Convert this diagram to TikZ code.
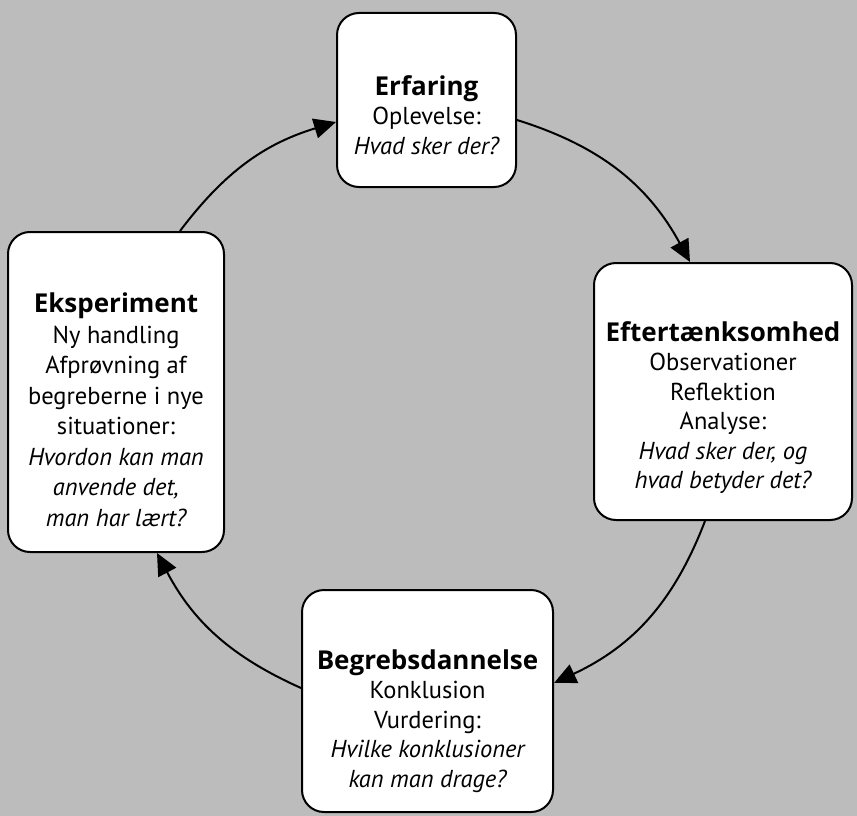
\documentclass[tikz,border=0pt]{standalone}
\usepackage{fontspec}
\setmainfont{PT Sans}
\newfontfamily\titlefont{Open Sans}
\usetikzlibrary{arrows.meta}
\definecolor{bg}{RGB}{188,188,188}
\tikzset{
  box/.style={draw=black, line width=2pt, fill=white, rounded corners=22pt, inner sep=0pt},
  txt/.style={align=center, font=\fontsize{24.5}{29.5}\selectfont, inner sep=0pt},
  cyc/.style={draw=black, line width=2pt, -{Triangle[length=22pt,width=20pt]}},
}
\newcommand{\ttl}[1]{{\titlefont\fontsize{26}{31}\selectfont\bfseries #1}}
\begin{document}
\begin{tikzpicture}[x=1pt,y=-1pt]
\fill[bg] (0,0) rectangle (857,816);
\useasboundingbox (0,0) rectangle (857,816);

\node[box, minimum width=179pt, minimum height=174pt] (erf) at (426.5,100) {};
\node[box, minimum width=258pt, minimum height=257pt] (eft) at (723,391.5) {};
\node[box, minimum width=251pt, minimum height=222pt] (beg) at (427.5,701) {};
\node[box, minimum width=216pt, minimum height=320pt] (eks) at (116,392) {};

\node[txt] (erft) at ([yshift=-15pt]erf.center) {\ttl{Erfaring}\\Oplevelse:\\\itshape Hvad sker der?};
\node[txt] (eftt) at ([yshift=-16pt]eft.center) {\ttl{Eftertænksomhed}\\Observationer\\Reflektion\\Analyse:\\\itshape Hvad sker der, og\\\itshape hvad betyder det?};
\node[txt] (begt) at ([yshift=-20pt]beg.center) {\ttl{Begrebsdannelse}\\Konklusion\\Vurdering:\\\itshape Hvilke konklusioner\\\itshape kan man drage?};
\node[txt, font=\fontsize{24.5}{30.5}\selectfont] (ekst) at ([yshift=-18pt]eks.center) {\ttl{Eksperiment}\\Ny handling\\Afprøvning af\\begreberne i nye\\situationer:\\\itshape Hvordon kan man\\\itshape anvende det,\\\itshape man har lært?};

\coordinate (a1s) at ([yshift=-20pt]erf.east);
\coordinate (a1e) at ([xshift=-33pt]eft.north);
\coordinate (a2s) at ([xshift=-18pt]eft.south);
\coordinate (a2e) at ([yshift=18pt]beg.east);
\coordinate (a3s) at ([yshift=13pt]beg.west);
\coordinate (a3e) at ([xshift=41pt]eks.south);
\coordinate (a4s) at ([xshift=64pt]eks.north);
\coordinate (a4e) at ([yshift=-22pt]erf.west);

\draw[cyc] (a1s) to[bend left=22] (a1e);
\draw[cyc] (a2s) to[bend left=22] (a2e);
\draw[cyc] (a3s) to[bend left=19] (a3e);
\draw[cyc] (a4s) to[bend left=18] (a4e);
\end{tikzpicture}
\end{document}
